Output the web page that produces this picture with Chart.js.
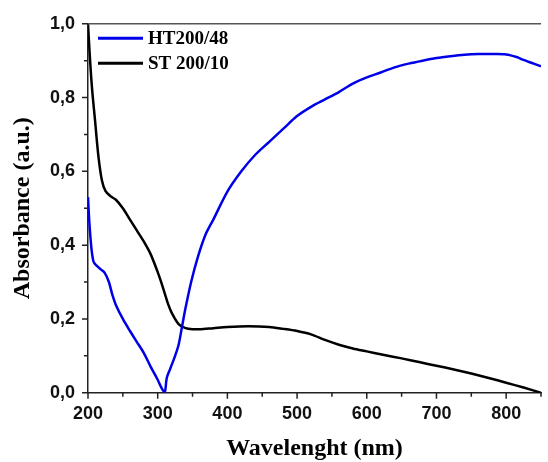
<!DOCTYPE html>
<html>
<head>
<meta charset="utf-8">
<script src="https://cdn.jsdelivr.net/npm/chart.js@4/dist/chart.umd.min.js"></script>
<style>
  html, body { margin: 0; padding: 0; background: #fff; overflow: hidden; }
  #wrap { width: 548px; height: 462px; overflow: hidden; }
</style>
</head>
<body>
<div id="wrap"><canvas id="chart" width="552" height="462"></canvas></div>
<script>
// values
const htWavelength = [200, 202, 205, 208, 212, 218, 224, 230, 235, 240, 250, 260, 270, 280, 290, 300, 305, 310,
  313, 318, 325, 330, 335, 340, 348, 358, 369, 380, 400, 420, 440, 460, 480, 500, 520, 540, 560, 580,
  600, 620, 640, 660, 680, 700, 720, 740, 760, 780, 800, 815, 825, 835, 850];
const htAbsorbance = [0.53, 0.46, 0.39, 0.355, 0.345, 0.335, 0.325, 0.30, 0.265, 0.238, 0.20, 0.168, 0.138, 0.108, 0.07, 0.035, 0.015, 0.0,
  0.04, 0.065, 0.10, 0.13, 0.18, 0.23, 0.30, 0.37, 0.43, 0.47, 0.545, 0.60, 0.645, 0.68, 0.715, 0.75, 0.775, 0.795, 0.815, 0.838,
  0.855, 0.868, 0.882, 0.892, 0.90, 0.907, 0.912, 0.916, 0.918, 0.918, 0.917, 0.91, 0.902, 0.895, 0.885];

const stWavelength = [200, 203, 206, 210, 215, 220, 225, 232, 240, 250, 260, 270, 280, 290, 300, 305, 310, 315, 320, 330,
  340, 350, 360, 380, 400, 430, 460, 480, 500, 520, 540, 560, 580, 600, 625, 650, 675, 700, 725, 750, 775, 800, 825, 850];
const stAbsorbance = [1.0, 0.90, 0.82, 0.74, 0.64, 0.575, 0.547, 0.533, 0.523, 0.50, 0.47, 0.44, 0.41, 0.375, 0.327, 0.30, 0.27, 0.24, 0.217, 0.186,
  0.175, 0.172, 0.172, 0.175, 0.178, 0.18, 0.178, 0.173, 0.167, 0.158, 0.143, 0.13, 0.12, 0.112, 0.102, 0.093, 0.083, 0.073, 0.063, 0.052, 0.04, 0.027, 0.014, 0.0];

const seriesLabels = ["HT200/48", "ST 200/10"];
const seriesColors = ["#0000e8", "#000000"];

const xTicks = [200, 250, 300, 350, 400, 450, 500, 550, 600, 650, 700, 750, 800, 850];
const xLabels = [200, 300, 400, 500, 600, 700, 800];
const yTicks = [0, 0.1, 0.2, 0.3, 0.4, 0.5, 0.6, 0.7, 0.8, 0.9, 1.0];
const yLabels = [0, 0.2, 0.4, 0.6, 0.8, 1.0];

const toPoints = (xs, ys) => xs.map((x, i) => ({ x: x, y: ys[i] }));

const tickFont = { family: "'Liberation Sans', Arial, sans-serif", size: 18, weight: "bold" };
const titleFont = { family: "'Liberation Serif', 'Times New Roman', serif", size: 24, weight: "bold", lineHeight: 1.1 };

// minor/major tick marks, top frame line and legend inside the plot
const decorations = {
  id: "decorations",
  afterDraw(chart) {
    const ctx = chart.ctx;
    const xs = chart.scales.x, ys = chart.scales.y;
    const area = chart.chartArea;
    ctx.save();
    ctx.strokeStyle = "#222";
    ctx.lineWidth = 1.5;
    ctx.beginPath();
    xTicks.forEach(v => {
      const px = xs.getPixelForValue(v);
      const len = xLabels.includes(v) ? 6 : 4;
      ctx.moveTo(px, area.bottom);
      ctx.lineTo(px, area.bottom + len);
    });
    yTicks.forEach(v => {
      const py = ys.getPixelForValue(v);
      const len = yLabels.some(l => Math.abs(l - v) < 1e-6) ? 6 : 4;
      ctx.moveTo(area.left, py);
      ctx.lineTo(area.left - len, py);
    });
    ctx.stroke();

    ctx.strokeStyle = "#555";
    ctx.beginPath();
    ctx.moveTo(area.left, area.top);
    ctx.lineTo(area.right, area.top);
    ctx.stroke();

    // legend
    ctx.font = "bold 19px 'Liberation Serif', 'Times New Roman', serif";
    ctx.textBaseline = "middle";
    chart.data.datasets.forEach((ds, i) => {
      const y = area.top + 14.5 + i * 25;
      ctx.strokeStyle = ds.borderColor;
      ctx.lineWidth = 3;
      ctx.beginPath();
      ctx.moveTo(area.left + 10, y);
      ctx.lineTo(area.left + 55, y);
      ctx.stroke();
      ctx.fillStyle = "#000";
      ctx.fillText(ds.label, area.left + 60, y + 1);
    });
    ctx.restore();
  }
};

new Chart(document.getElementById("chart"), {
  type: "line",
  data: {
    datasets: [
      {
        label: seriesLabels[0],
        data: toPoints(htWavelength, htAbsorbance),
        borderColor: seriesColors[0],
        borderWidth: 2.5,
        pointRadius: 0,
        tension: 0.3
      },
      {
        label: seriesLabels[1],
        data: toPoints(stWavelength, stAbsorbance),
        borderColor: seriesColors[1],
        borderWidth: 2.5,
        pointRadius: 0,
        tension: 0.3
      }
    ]
  },
  options: {
    responsive: false,
    animation: false,
    layout: { padding: { top: 20.7, left: 0, right: 0, bottom: 0 } },
    plugins: { legend: { display: false }, tooltip: { enabled: false } },
    scales: {
      x: {
        type: "linear",
        min: 200,
        max: 850,
        afterBuildTicks: s => { s.ticks = xTicks.map(v => ({ value: v })); },
        afterFit: s => { s.height = 69.3; },
        grid: { display: false, drawTicks: false, tickLength: 0 },
        border: { display: true, color: "#222", width: 1.5 },
        ticks: {
          color: "#111",
          font: tickFont,
          padding: 11,
          maxRotation: 0,
          autoSkip: false,
          callback: v => xLabels.includes(v) ? String(v) : ""
        },
        title: { display: true, text: "Wavelenght (nm)", color: "#000", font: titleFont, padding: { top: 0, bottom: 0 } }
      },
      y: {
        min: 0,
        max: 1,
        afterBuildTicks: s => { s.ticks = yTicks.map(v => ({ value: v })); },
        afterFit: s => { s.width = 88; },
        grid: { display: false, drawTicks: false, tickLength: 0 },
        border: { display: true, color: "#222", width: 1.5 },
        ticks: {
          color: "#111",
          font: tickFont,
          padding: 13,
          autoSkip: false,
          callback: v => yLabels.some(l => Math.abs(l - v) < 1e-6) ? v.toFixed(1).replace(".", ",") : ""
        },
        title: { display: true, text: "Absorbance (a.u.)", color: "#000", font: titleFont, padding: { top: 10, bottom: 0 } }
      }
    }
  },
  plugins: [decorations]
});
</script>
</body>
</html>
